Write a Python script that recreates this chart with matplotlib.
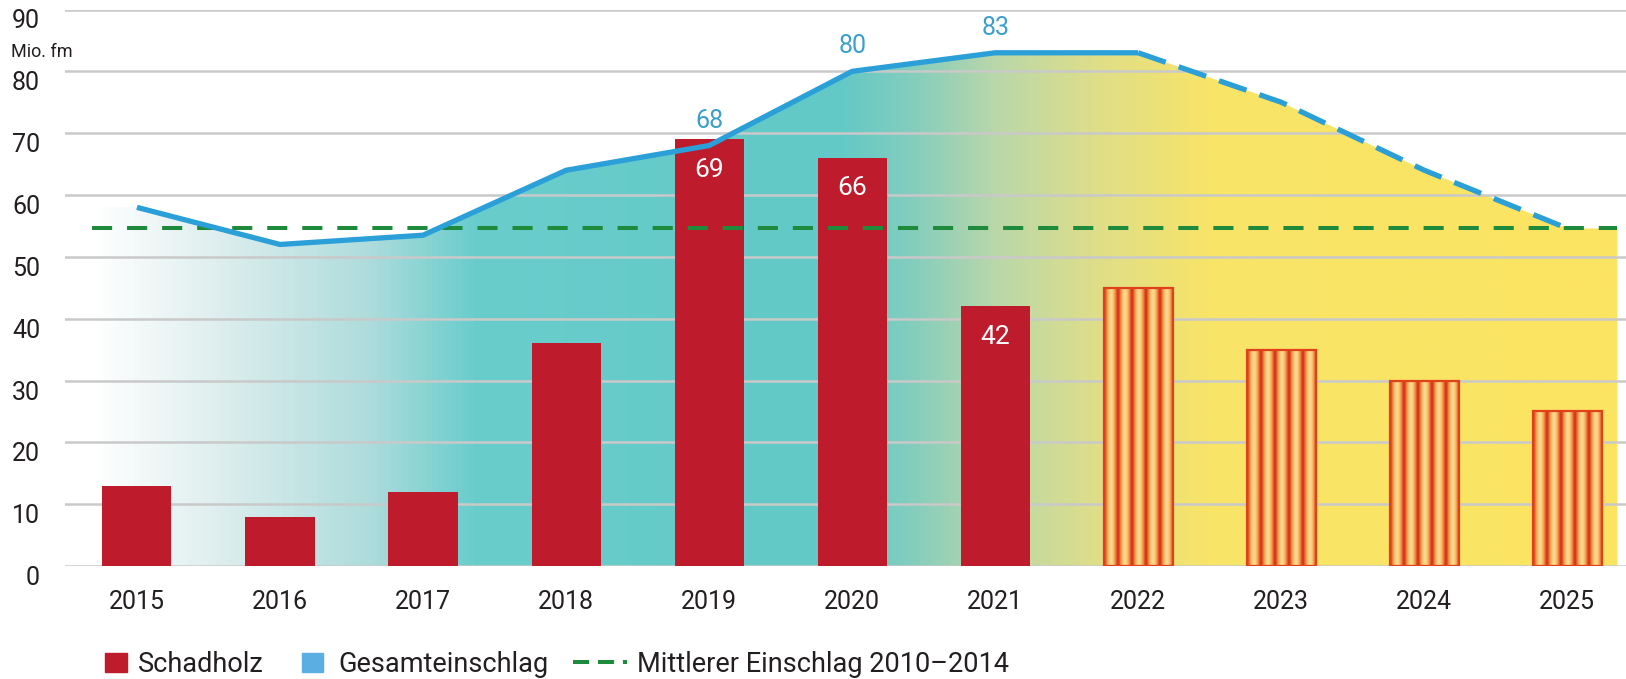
import matplotlib
matplotlib.use("Agg")
import matplotlib.pyplot as plt
import numpy as np
from matplotlib.colors import LinearSegmentedColormap
from matplotlib.patches import Rectangle
from matplotlib.lines import Line2D

# Schadholz und Gesamteinschlag in Mio. fm (ab 2022 Prognose)
years = [2015, 2016, 2017, 2018, 2019, 2020, 2021, 2022, 2023, 2024, 2025]
schadholz = [13, 8, 12, 36, 69, 66, 42, 45, 35, 30, 25]
gesamteinschlag = [58, 52, 53.5, 64, 68, 80, 83, 83, 75, 64, 54.6]
mittel_2010_2014 = 54.6
last_actual_year = 2021
schadholz_label_years = [2019, 2020, 2021]
gesamt_label_years = [2019, 2020, 2021]
yticks = list(range(0, 91, 10))

RED = '#be1c2d'
BLUE = '#2a9fd8'
GREEN = '#1e8b3c'
TEXT = '#231f20'

plt.rcParams['font.family'] = ['Roboto', 'DejaVu Sans']

W, H = 1626, 679
fig = plt.figure(figsize=(W / 100, H / 100), dpi=100)
ax = fig.add_axes([65 / W, 1 - 566 / H, 1 - 65 / W, (566 - 9.5) / H])
xmin, xmax = 2014.497, 2025.41

# gradient area under the total harvest line
x0, x1 = 2014.685, 2025.35
fill_x = [x0] + years + [x1]
fill_y = [gesamteinschlag[0]] + gesamteinschlag + [gesamteinschlag[-1]]
area = ax.fill_between(fill_x, fill_y, 0, facecolor='none', edgecolor='none')
stops_x = [2014.685, 2015.5, 2016.6, 2017.35, 2019.9, 2020.4, 2021.0, 2021.7, 2022.5, 2025.35]
stops_c = [(255, 255, 255), (224, 239, 239), (175, 220, 220), (105, 205, 204),
           (98, 201, 198), (130, 205, 190), (185, 215, 170), (222, 222, 138),
           (248, 228, 104), (252, 228, 97)]
shade = LinearSegmentedColormap.from_list(
    'shade', [((sx - x0) / (x1 - x0), tuple(c / 255 for c in col))
              for sx, col in zip(stops_x, stops_c)])
grad = np.linspace(0, 1, 1024).reshape(1, -1)
img = ax.imshow(grad, cmap=shade, extent=[x0, x1, 0, 90], aspect='auto',
                origin='lower', interpolation='bilinear', zorder=0.2)
img.set_clip_path(area.get_paths()[0], ax.transData)

# bars: actual values solid, forecast striped
bw = 0.483
n_act = years.index(last_actual_year) + 1
ax.bar(years[:n_act], schadholz[:n_act], width=bw, color=RED, zorder=1)
fc_bars = ax.bar(years[n_act:], schadholz[n_act:], width=bw, facecolor='none',
                 edgecolor='#e0401c', linewidth=1.6, zorder=1.3)

stripe_cmap = LinearSegmentedColormap.from_list(
    'stripe', [(0, '#d52e18'), (0.45, '#f08a3c'), (1, '#fcd98c')])
phase = np.linspace(0, 5, 500)
stripe = ((0.5 - 0.5 * np.cos(2 * np.pi * phase)) ** 0.7).reshape(1, -1)
for rect in fc_bars:
    bx, bh = rect.get_x(), rect.get_height()
    im = ax.imshow(stripe, cmap=stripe_cmap, extent=[bx, bx + bw, 0, bh],
                   aspect='auto', interpolation='bilinear', zorder=1.1)
    im.set_clip_path(rect)

# mean harvest 2010-2014
ax.plot([x0, x1], [mittel_2010_2014] * 2, color=GREEN, lw=2.9,
        dashes=(5, 3.7), zorder=3)

# total harvest line, dashed after the last actual year
k = years.index(2022) + 1
ax.plot(years[:k], gesamteinschlag[:k], color=BLUE, lw=3.8, zorder=4,
        solid_joinstyle='round', solid_capstyle='butt')
ax.plot(years[k - 1:], gesamteinschlag[k - 1:], color=BLUE, lw=3.8, zorder=4,
        dashes=(5.5, 2.6))

for y in schadholz_label_years:
    v = schadholz[years.index(y)]
    ax.annotate(f'{v:g}', (y, v), xytext=(0, -22), textcoords='offset points',
                ha='center', va='center', color='white', fontsize=19, zorder=5)
for y in gesamt_label_years:
    v = gesamteinschlag[years.index(y)]
    ax.annotate(f'{v:g}', (y, v), xytext=(0, 18), textcoords='offset points',
                ha='center', va='center', color='#3b9fcc', fontsize=18, zorder=5)

ax.set_xlim(xmin, xmax)
ax.set_ylim(0, 90)
ax.set_xticks(years)
ax.set_yticks(yticks)
ax.yaxis.grid(True, color='#c9c9c9', lw=1.8)
ax.set_axisbelow(True)
for s in ax.spines.values():
    s.set_visible(False)
ax.tick_params(axis='x', length=0, pad=17, labelsize=18, labelcolor=TEXT)
ax.tick_params(axis='y', length=0, pad=18, labelsize=18, labelcolor=TEXT)
for lbl in ax.get_yticklabels():
    lbl.set_verticalalignment('top')

fig.text(11 / W, 1 - 57 / H, 'Mio. fm', fontsize=13, color=TEXT, va='baseline')

# legend
base = 1 - 672 / H
fig.add_artist(Rectangle((105 / W, base), 22 / W, 19 / H, color=RED,
                         transform=fig.transFigure))
fig.text(138 / W, base, 'Schadholz', fontsize=19.5, color=TEXT, va='baseline')
fig.add_artist(Rectangle((302 / W, base), 21 / W, 19 / H, color='#5aaee2',
                         transform=fig.transFigure))
fig.text(338 / W, base, 'Gesamteinschlag', fontsize=19.5, color=TEXT, va='baseline')
fig.add_artist(Line2D([573 / W, 627 / W], [1 - 662 / H] * 2, color=GREEN, lw=2.9,
                      dashes=(4, 2.2), transform=fig.transFigure))
fig.text(637 / W, base, 'Mittlerer Einschlag 2010–2014', fontsize=19.5,
         color=TEXT, va='baseline')

fig.savefig('out.png', dpi=100, facecolor='white')
